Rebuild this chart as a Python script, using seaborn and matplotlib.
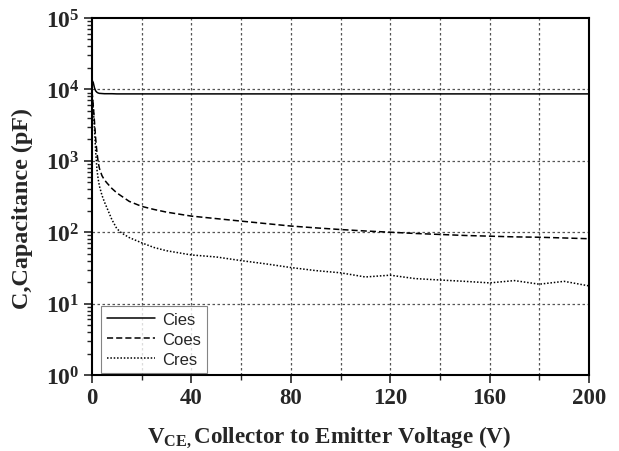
import numpy as np
import pandas as pd
import matplotlib
matplotlib.use('Agg')
import matplotlib.pyplot as plt
import seaborn as sns

# Capacitance vs VCE
vce = [0, 0.5, 1, 1.5, 2, 2.5, 3, 4, 5, 6, 8, 10, 12, 15, 20, 25, 30, 40, 50,
       60, 70, 80, 90, 100, 110, 120, 130, 140, 150, 160, 170, 180, 190, 200]
cies = [13500, 12500, 10500, 9500, 9100, 8900, 8800, 8750, 8700, 8700, 8700,
        8650, 8650, 8650, 8650, 8650, 8650, 8650, 8650, 8650, 8650, 8650, 8650,
        8650, 8650, 8650, 8650, 8650, 8650, 8650, 8650, 8650, 8650, 8650]
coes = [9500, 6000, 3500, 2000, 1300, 950, 780, 620, 540, 490, 410, 355, 318,
        270, 230, 208, 191, 168, 155, 143, 132, 122, 115, 109, 104, 100, 96,
        93, 90, 88, 86, 85, 83, 81]
cres = [9000, 5500, 2800, 1300, 750, 550, 440, 330, 265, 220, 150, 112, 97,
        84, 71, 61, 55, 48, 45, 40, 36, 32, 29, 27, 23.6, 25, 22.4, 21.4, 20.5,
        19.5, 21, 18.7, 20.5, 17.7]
series_names = ['Cies', 'Coes', 'Cres']
x_ticks = [0, 40, 80, 120, 160, 200]

df = pd.concat([
    pd.DataFrame({'vce': vce, 'cap': cies, 'name': 'Cies'}),
    pd.DataFrame({'vce': vce, 'cap': coes, 'name': 'Coes'}),
    pd.DataFrame({'vce': vce, 'cap': cres, 'name': 'Cres'}),
])

sns.set_style('ticks')
plt.rcParams['font.family'] = ['Liberation Serif', 'DejaVu Serif']
plt.rcParams['mathtext.fontset'] = 'custom'
plt.rcParams['mathtext.rm'] = 'Liberation Serif:bold'
plt.rcParams['mathtext.bf'] = 'Liberation Serif:bold'
plt.rcParams['mathtext.it'] = 'Liberation Serif:bold'

W, H = 619, 452
fig = plt.figure(figsize=(W / 100, H / 100), dpi=100)
ax = fig.add_axes([92 / W, 1 - 376 / H, 497 / W, 357 / H])

sns.lineplot(data=df, x='vce', y='cap', hue='name', style='name',
             palette={n: 'black' for n in series_names},
             dashes={'Cies': '', 'Coes': (4, 2), 'Cres': (1, 1.2)},
             linewidth=1.1, ax=ax, legend=False)

ax.set_yscale('log')
ax.set_xlim(0, 200)
ax.set_ylim(1, 1e5)

ax.set_xticks(x_ticks)
ax.set_xticks(range(20, 200, 40), minor=True)
ax.set_xticklabels([str(t) for t in x_ticks], fontsize=16.5, fontweight='bold')
yt = [10 ** k for k in range(6)]
ax.set_yticks(yt)
ax.set_yticklabels([r'$\mathbf{10^{%d}}$' % k for k in range(6)], fontsize=17)

ax.tick_params(which='major', direction='out', length=6, width=1.2, pad=3)
ax.tick_params(which='minor', direction='out', length=3.5, width=1.0)
ax.tick_params(top=False, right=False, which='both')

# dotted grid at every 20 V and every decade
for xv in range(20, 200, 20):
    ax.axvline(xv, color='#555555', linestyle=(0, (2, 2)), linewidth=0.9, zorder=0)
for yv in yt[1:-1]:
    ax.axhline(yv, color='#555555', linestyle=(0, (2, 2)), linewidth=0.9, zorder=0)

for s in ax.spines.values():
    s.set_linewidth(1.5)
    s.set_color('black')

ax.set_xlabel('')
ax.set_ylabel('')
fig.text(22 / W, 1 - 209 / H, 'C,Capacitance (pF)', rotation=90, fontsize=17.4,
         fontweight='bold', ha='center', va='center')
fig.text(329 / W, 1 - 437 / H,
         r'$\mathbf{V_{CE,}}$Collector to Emitter Voltage (V)', fontsize=16.6,
         fontweight='bold', ha='center', va='center')

handles = ax.get_lines()[:3]
leg = ax.legend(handles, series_names, loc='lower left',
                bbox_to_anchor=(9 / 497, 2 / 357), borderaxespad=0,
                prop={'family': 'Liberation Sans', 'size': 12},
                frameon=True, fancybox=False, edgecolor='#666666',
                handlelength=2.9, handletextpad=0.4, labelspacing=0.3,
                borderpad=0.35)
leg.get_frame().set_linewidth(0.8)

fig.savefig('out.png', dpi=100)
